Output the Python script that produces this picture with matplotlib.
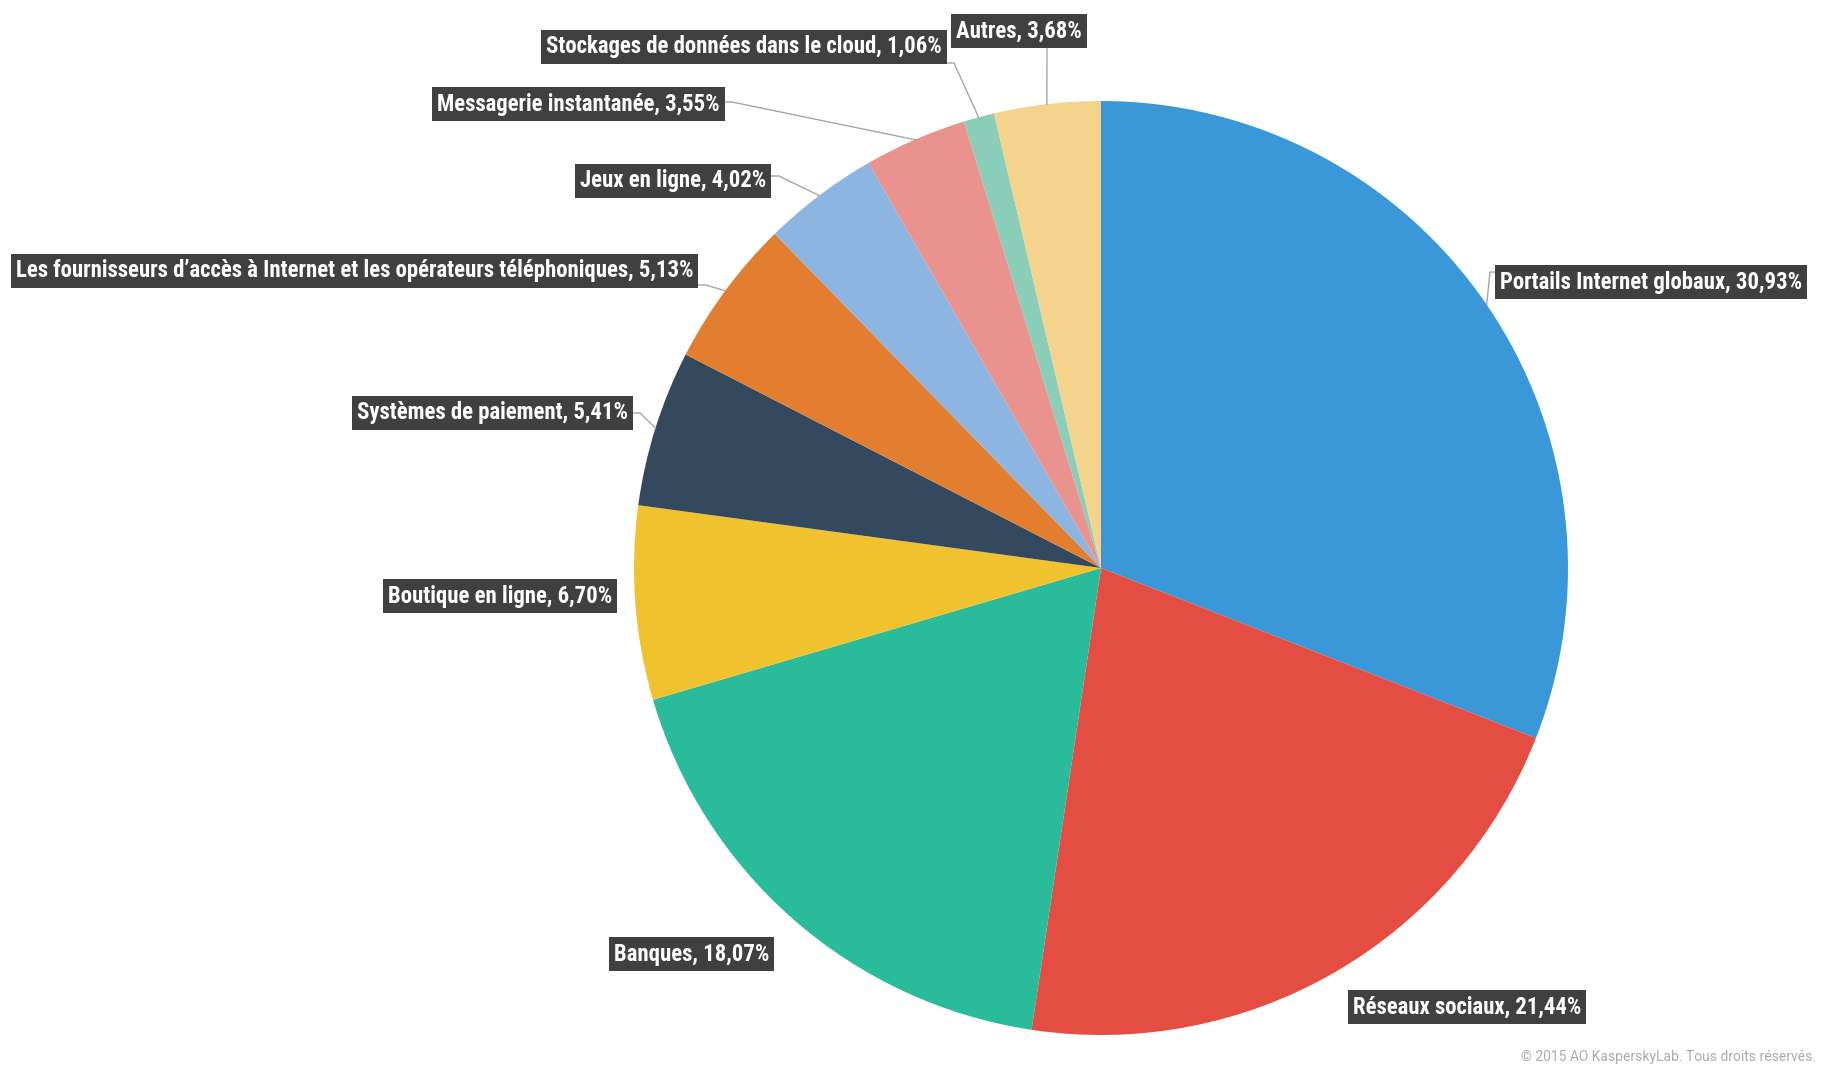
import matplotlib
matplotlib.use("Agg")
import matplotlib.pyplot as plt
from matplotlib.patches import Rectangle
import numpy as np

W, H = 1827, 1075

categories = [
    "Portails Internet globaux",
    "Réseaux sociaux",
    "Banques",
    "Boutique en ligne",
    "Systèmes de paiement",
    "Les fournisseurs d’accès à Internet et les opérateurs téléphoniques",
    "Jeux en ligne",
    "Messagerie instantanée",
    "Stockages de données dans le cloud",
    "Autres",
]
shares = [30.93, 21.44, 18.07, 6.70, 5.41, 5.13, 4.02, 3.55, 1.06, 3.68]
colors = ["#3A98D8", "#E44D42", "#2ABB9B", "#F0C22E", "#35495E",
          "#E37E31", "#8DB5E2", "#EA928E", "#8ACDB8", "#F4D38C"]

# label layout in pixels (top-left origin): anchor x, centre y, alignment
label_x = [1500, 1353, 769, 612, 628, 693, 766, 720, 942, 1082]
label_y = [282, 1007, 954, 596, 413, 271, 181, 104, 47, 31]
label_ha = ["left", "left", "right", "right", "right", "right", "right", "right", "right", "right"]
# leader line start (px); None = no line
line_start = [(1495, 272), None, None, None, (632, 413), (698, 285),
              (771, 176), (724, 102), (946, 63), (1047, 48)]

CX, CY, R = 1101, 568, 467
FONT = ["Roboto Condensed", "Roboto", "DejaVu Sans"]


def Y(y):
    return H - y


fig = plt.figure(figsize=(W / 100, H / 100), dpi=100)
ax = fig.add_axes([0, 0, 1, 1])
ax.pie(shares, colors=colors, startangle=90, counterclock=False,
       center=(CX, Y(CY)), radius=R, wedgeprops=dict(linewidth=0))
ax.set_xlim(0, W)
ax.set_ylim(0, H)
ax.set_aspect("equal")
ax.axis("off")

# leader lines to the slice mid-angle on the rim
cum = np.cumsum([0] + shares[:-1])
mids = 90 - (cum + np.array(shares) / 2) * 3.6
for i, start in enumerate(line_start):
    if start is None:
        continue
    a = np.deg2rad(mids[i])
    ex, ey = CX + R * np.cos(a), CY - R * np.sin(a)
    sx, sy = start
    if i == 0:
        pts = [(sx, sy), (sx - 5, sy), (ex, ey)]
    elif i == 9:
        pts = [(sx, sy), (ex, ey)]
    else:
        pts = [(sx, sy), (sx + 8, sy), (ex, ey)]
    ax.plot([p[0] for p in pts], [Y(p[1]) for p in pts], color="#A6A6A6", lw=1, zorder=3)

renderer = fig.canvas.get_renderer()

# pick a font size so the longest label is as wide as in the original (~679 px)
probe = ax.text(0, 0, f"{categories[5]}, 5,13%", fontsize=15, fontweight="bold", family=FONT)
FS = 15 * 679 / probe.get_window_extent(renderer).width
probe.remove()

inv = ax.transData.inverted()
for name, v, x, y, ha in zip(categories, shares, label_x, label_y, label_ha):
    s = f"{name}, {v:.2f}%".replace(".", ",")
    t = ax.text(x, Y(y), s, ha=ha, va="center", color="white", fontsize=FS,
                fontweight="bold", family=FONT, zorder=5)
    bb = t.get_window_extent(renderer)
    (x0, _), (x1, _) = inv.transform([(bb.x0, bb.y0), (bb.x1, bb.y1)])
    ax.add_patch(Rectangle((x0 - 5, Y(y) - 17), (x1 - x0) + 10, 34,
                           facecolor="#404040", edgecolor="none", zorder=4))

ax.text(1816, Y(1057), "© 2015 AO KasperskyLab. Tous droits réservés.",
        ha="right", va="center", color="#ABABAB", fontsize=10, family="Roboto")

fig.savefig("out.png", dpi=100)
